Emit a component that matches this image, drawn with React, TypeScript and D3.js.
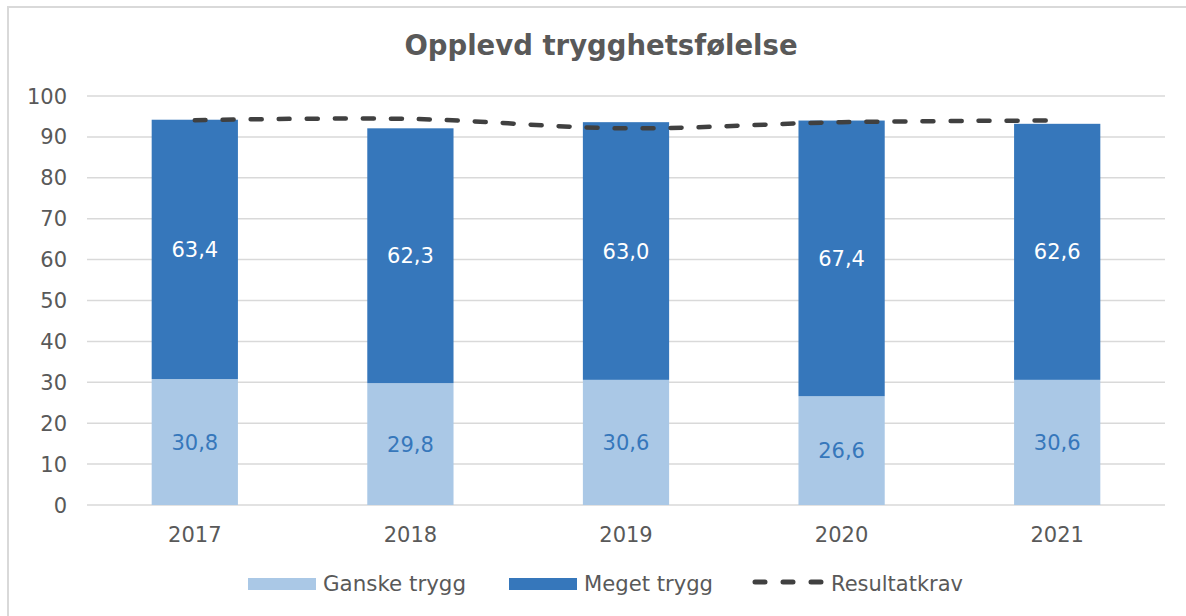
import * as d3 from "d3";
import React from "react";

const years = ["2017", "2018", "2019", "2020", "2021"];
const ganskeTrygg = [30.8, 29.8, 30.6, 26.6, 30.6];
const megetTrygg = [63.4, 62.3, 63.0, 67.4, 62.6];
const resultatkrav = [94.1, 94.4, 92.1, 93.6, 94.0];
const yTicks = [0, 10, 20, 30, 40, 50, 60, 70, 80, 90, 100];

const width = 1186;
const height = 616;
const marginTop = 96;
const marginLeft = 87;
const marginRight = 21;
const marginBottom = 111;

const light = "#AAC8E6";
const dark = "#3677BB";
const textGray = "#595959";
const lineGray = "#404040";
const font = "Verdana, 'DejaVu Sans', sans-serif";

const fmt = (v: number) => v.toFixed(1).replace(".", ",");

export default function App() {
  const x = d3
    .scaleBand()
    .domain(years)
    .range([marginLeft, width - marginRight])
    .paddingInner(0.6)
    .paddingOuter(0.3);

  const y = d3
    .scaleLinear()
    .domain([0, 100])
    .range([height - marginBottom, marginTop]);

  const cx = (yr: string) => (x(yr) ?? 0) + x.bandwidth() / 2;

  const line = d3
    .line<number>()
    .x((d, i) => cx(years[i]))
    .y((d) => y(d))
    .curve(d3.curveCatmullRom.alpha(0.5));

  return (
    <svg
      width={width}
      height={height}
      style={{ position: "absolute", left: 0, top: 0, fontFamily: font }}
    >
      <rect x={0} y={0} width={width} height={height} fill="white" />
      {/* chart frame (top + left edge visible) */}
      <path d={`M8,${height} V7 H${width}`} fill="none" stroke="#D9D9D9" strokeWidth={2} />

      <text x={601} y={55} textAnchor="middle" fontSize={27.5} fontWeight="bold" fill={textGray}>
        Opplevd trygghetsfølelse
      </text>

      {/* gridlines + y ticks */}
      {yTicks.map((t) => (
        <g key={t}>
          <line x1={marginLeft} x2={width - marginRight} y1={y(t)} y2={y(t)} stroke="#D9D9D9" strokeWidth={1.5} />
          <text x={67} y={y(t)} dy="0.36em" textAnchor="end" fontSize={21} fill={textGray}>
            {t}
          </text>
        </g>
      ))}

      {/* stacked bars */}
      {years.map((yr, i) => {
        const a = ganskeTrygg[i];
        const b = megetTrygg[i];
        return (
          <g key={yr}>
            <rect x={x(yr)} y={y(a)} width={x.bandwidth()} height={y(0) - y(a)} fill={light} />
            <rect x={x(yr)} y={y(a + b)} width={x.bandwidth()} height={y(a) - y(a + b)} fill={dark} />
            <text x={cx(yr)} y={y(a / 2)} dy="0.36em" textAnchor="middle" fontSize={21} fill={dark}>
              {fmt(a)}
            </text>
            <text x={cx(yr)} y={y(a + b / 2)} dy="0.36em" textAnchor="middle" fontSize={21} fill="white">
              {fmt(b)}
            </text>
            <text x={cx(yr)} y={542} textAnchor="middle" fontSize={21} fill={textGray}>
              {yr}
            </text>
          </g>
        );
      })}

      {/* Resultatkrav */}
      <path
        d={line(resultatkrav) ?? ""}
        fill="none"
        stroke={lineGray}
        strokeWidth={4.5}
        strokeLinecap="round"
        strokeDasharray="11 17"
      />

      {/* legend */}
      <g fontSize={21.5} fill={textGray}>
        <rect x={248} y={578} width={68} height={12} fill={light} />
        <text x={323} y={591} textLength={143} lengthAdjust="spacingAndGlyphs">Ganske trygg</text>
        <rect x={509} y={578} width={68} height={12} fill={dark} />
        <text x={584} y={591} textLength={129} lengthAdjust="spacingAndGlyphs">Meget trygg</text>
        <line
          x1={755}
          x2={825}
          y1={582}
          y2={582}
          stroke={lineGray}
          strokeWidth={5}
          strokeLinecap="round"
          strokeDasharray="10 18"
        />
        <text x={831} y={591} textLength={132} lengthAdjust="spacingAndGlyphs">Resultatkrav</text>
      </g>
    </svg>
  );
}
